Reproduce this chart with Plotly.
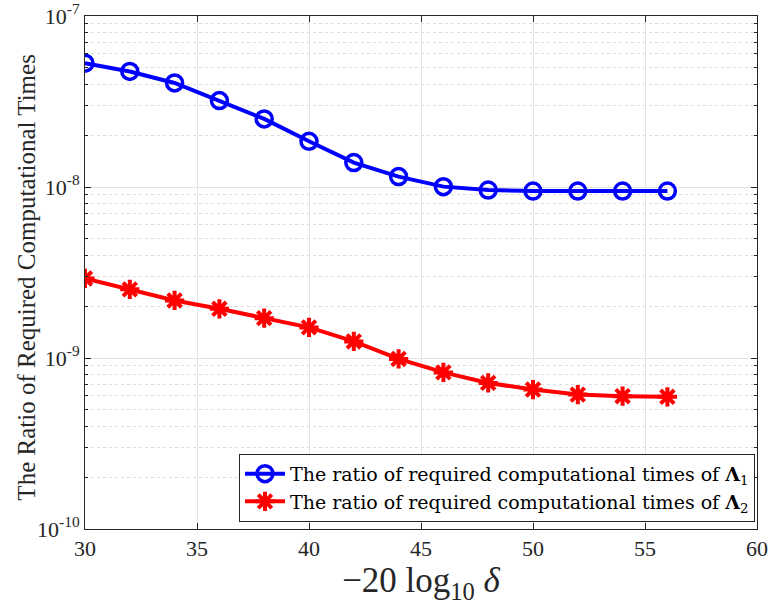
import plotly.graph_objects as go

x_vals = [30, 32, 34, 36, 38, 40, 42, 44, 46, 48, 50, 52, 54, 56]
lambda1 = [5.30e-8, 4.74e-8, 4.06e-8, 3.20e-8, 2.50e-8, 1.85e-8, 1.39e-8,
           1.15e-8, 1.005e-8, 9.6e-9, 9.47e-9, 9.47e-9, 9.47e-9, 9.47e-9]
lambda2 = [2.92e-9, 2.52e-9, 2.17e-9, 1.94e-9, 1.71e-9, 1.51e-9, 1.25e-9,
           9.87e-10, 8.24e-10, 7.15e-10, 6.54e-10, 6.11e-10, 5.98e-10, 5.93e-10]
y_tickvals = [1e-10, 1e-9, 1e-8, 1e-7]
y_ticktext = ["10<sup>-10</sup>", "10<sup>-9</sup>", "10<sup>-8</sup>", "10<sup>-7</sup>"]
x_tickvals = [30, 35, 40, 45, 50, 55, 60]
y_title = "The Ratio of Required Computational Times"

font_fam = "Liberation Serif, Times New Roman, serif"
legend_fam = "DejaVu Serif, serif"

fig = go.Figure()
fig.add_trace(go.Scatter(
    x=x_vals, y=lambda1, mode="lines+markers",
    name="The ratio of required computational times of <b>Λ</b><sub>1</sub>",
    line=dict(color="#0000ff", width=4),
    marker=dict(symbol="circle-open", size=16, color="#0000ff", line=dict(width=3.5, color="#0000ff")),
))
fig.add_trace(go.Scatter(
    x=x_vals, y=lambda2, mode="lines+markers",
    name="The ratio of required computational times of <b>Λ</b><sub>2</sub>",
    line=dict(color="#ff0000", width=4),
    marker=dict(symbol="asterisk-open", size=16, color="#ff0000", line=dict(width=4, color="#ff0000")),
))

fig.update_layout(
    width=776, height=609,
    margin=dict(l=85, r=19, t=16, b=80),
    paper_bgcolor="white", plot_bgcolor="white",
    font=dict(family=font_fam, size=22, color="#262626"),
    showlegend=True,
    legend=dict(
        x=0.997, y=0.014, xanchor="right", yanchor="bottom",
        bgcolor="white", bordercolor="#262626", borderwidth=1,
        font=dict(family=legend_fam, size=19, color="black"),
        tracegroupgap=0, itemwidth=40,
    ),
    annotations=[dict(
        text=y_title, textangle=-90, xref="paper", yref="paper",
        x=-0.0863, y=0.49, xanchor="center", yanchor="middle", showarrow=False,
        font=dict(family=font_fam, size=25, color="#262626"),
    )],
)
fig.update_xaxes(
    range=[30, 60], tickvals=x_tickvals, automargin=False,
    showline=True, linecolor="#262626", linewidth=1, mirror="ticks",
    ticks="inside", ticklen=6, tickcolor="#262626",
    showgrid=True, gridcolor="#e3e3e3", gridwidth=1, zeroline=False,
    title=dict(text="−20 log<sub>10</sub> <i>δ</i>", font=dict(size=35, color="#262626"), standoff=2),
    tickfont=dict(size=22, color="#262626"),
)
fig.update_yaxes(
    type="log", range=[-10, -7], tickvals=y_tickvals, ticktext=y_ticktext, automargin=False,
    showline=True, linecolor="#262626", linewidth=1, mirror="ticks",
    ticks="inside", ticklen=6, tickcolor="#262626",
    showgrid=True, gridcolor="#e3e3e3", gridwidth=1, zeroline=False,
    minor=dict(dtick="D1", showgrid=True, gridcolor="#dcdcdc", griddash="dot",
               ticks="inside", ticklen=3, tickcolor="#262626"),
    tickfont=dict(size=22, color="#262626"),
)

# remove the browser's default 8px body margin so the figure sits at the page origin
fig.write_html("out.html", post_script="document.body.style.margin='0';",
               config={"displayModeBar": False})
